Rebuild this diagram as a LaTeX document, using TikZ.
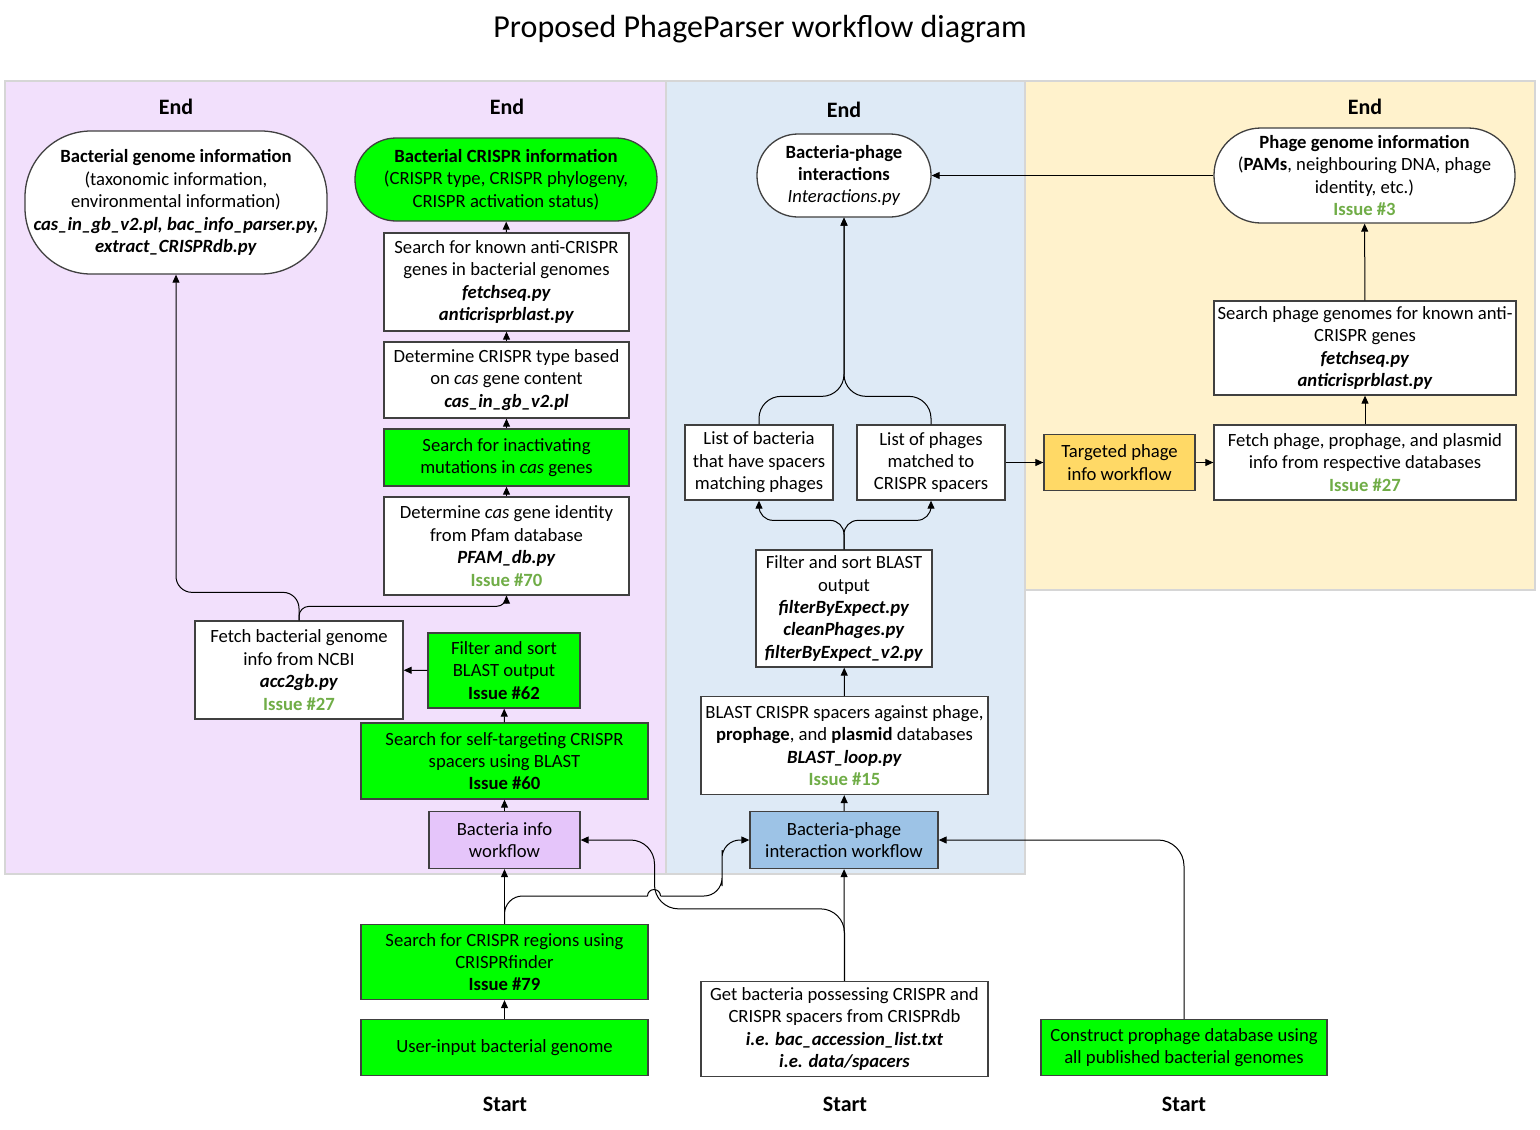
\documentclass[tikz,border=0pt]{standalone}
\usepackage{fontspec}
\setmainfont{Carlito}
\usetikzlibrary{arrows.meta}
\definecolor{purplebg}{RGB}{242,224,252}
\definecolor{bluebg}{RGB}{222,234,246}
\definecolor{yellowbg}{RGB}{255,242,204}
\definecolor{panelbord}{RGB}{214,214,214}
\definecolor{bordc}{RGB}{64,64,64}
\definecolor{limefill}{RGB}{0,255,0}
\definecolor{violetfill}{RGB}{229,197,250}
\definecolor{skyfill}{RGB}{157,195,230}
\definecolor{goldfill}{RGB}{255,217,102}
\definecolor{issuegreen}{RGB}{112,173,71}
\newcommand{\bodyfont}{\fontsize{18.67}{22.4}\selectfont}
\newcommand{\headfont}{\fontsize{22}{26}\selectfont\bfseries}
\newcommand{\titlefont}{\fontsize{32}{38}\selectfont}
\newcommand{\bi}[1]{\textbf{\textit{#1}}}
\newcommand{\issue}[1]{\textcolor{issuegreen}{\textbf{Issue \##1}}}
\begin{document}
\begin{tikzpicture}[x=1pt,y=-1pt,
  box/.style={draw=bordc, line width=1.3pt, fill=white, align=center, inner sep=0pt, font=\bodyfont},
  greenbox/.style={box, fill=limefill},
  conn/.style={draw=black, line width=1pt, -{Triangle[length=8pt,width=7pt]}},
  plain/.style={draw=black, line width=1pt},
  head/.style={font=\headfont, inner sep=0pt},
  panel/.style={draw=panelbord, line width=1.5pt}]
\useasboundingbox (0,0) rectangle (1540,1130);

% swim-lane panels
\path[panel, fill=purplebg] (5,81) rectangle (666,874);
\path[panel, fill=bluebg] (666,81) rectangle (1025,874);
\path[panel, fill=yellowbg] (1025,81) rectangle (1535,590);

% title and lane labels
\node[font=\titlefont, inner sep=0pt] (title) at (760,29) {Proposed PhageParser workflow diagram};
\node[head] (end1) at (176,107) {End};
\node[head] (end2) at (507,107) {End};
\node[head] (end3) at (844,110) {End};
\node[head] (end4) at (1365,107) {End};
\node[head] (start1) at (505,1104) {Start};
\node[head] (start2) at (845,1104) {Start};
\node[head] (start3) at (1184,1104) {Start};

% bacteria info lane
\node[box, rounded corners=66pt, minimum width=302pt, minimum height=143pt] (bacgenome) at (176,202.5)
  {\textbf{Bacterial genome information}\\(taxonomic information,\\environmental information)\\\bi{cas\_in\_gb\_v2.pl, bac\_info\_parser.py,}\\\bi{extract\_CRISPRdb.py}};
\node[greenbox, rounded corners=41pt, minimum width=302pt, minimum height=83pt] (baccrispr) at (506,179.5)
  {\textbf{Bacterial CRISPR information}\\(CRISPR type, CRISPR phylogeny,\\CRISPR activation status)};
\node[box, minimum width=245pt, minimum height=98pt] (anticrispr) at (506.5,282)
  {Search for known anti-CRISPR\\genes in bacterial genomes\\\bi{fetchseq.py}\\\bi{anticrisprblast.py}};
\node[box, minimum width=245pt, minimum height=76pt] (crisprtype) at (506.5,380)
  {Determine CRISPR type based\\on \textit{cas} gene content\\\bi{cas\_in\_gb\_v2.pl}};
\node[greenbox, minimum width=245pt, minimum height=57pt] (inactivating) at (506.5,457.5)
  {Search for inactivating\\mutations in \textit{cas} genes};
\node[box, minimum width=245pt, minimum height=98pt] (casid) at (506.5,546)
  {Determine \textit{cas} gene identity\\from Pfam database\\\bi{PFAM\_db.py}\\\issue{70}};
\node[box, minimum width=208pt, minimum height=98pt] (fetchbac) at (299,670)
  {Fetch bacterial genome\\info from NCBI\\\bi{acc2gb.py}\\\issue{27}};
\node[greenbox, minimum width=152pt, minimum height=75pt] (filter62) at (504,670.5)
  {Filter and sort\\BLAST output\\\textbf{Issue \#62}};
\node[greenbox, minimum width=287pt, minimum height=76pt] (selftarget) at (504.5,761)
  {Search for self-targeting CRISPR\\spacers using BLAST\\\textbf{Issue \#60}};
\node[box, fill=violetfill, minimum width=151pt, minimum height=57pt] (bacinfo) at (504.5,840)
  {Bacteria info\\workflow};
\node[greenbox, minimum width=287pt, minimum height=75pt] (crisprfinder) at (504.5,962)
  {Search for CRISPR regions using\\CRISPRfinder\\\textbf{Issue \#79}};
\node[greenbox, minimum width=287pt, minimum height=56pt] (userinput) at (504.5,1047.5)
  {User-input bacterial genome};

% bacteria-phage interaction lane
\node[box, minimum width=287pt, minimum height=95pt] (getbac) at (844.5,1029)
  {Get bacteria possessing CRISPR and\\CRISPR spacers from CRISPRdb\\\bi{i.e. bac\_accession\_list.txt}\\\bi{i.e. data/spacers}};
\node[greenbox, minimum width=286pt, minimum height=56pt] (construct) at (1184,1047.5)
  {Construct prophage database using\\all published bacterial genomes};
\node[box, fill=skyfill, minimum width=188pt, minimum height=57pt] (bpwf) at (844,840)
  {Bacteria-phage\\interaction workflow};
\node[box, minimum width=287pt, minimum height=98pt] (blastcrispr) at (844.5,745.5)
  {BLAST CRISPR spacers against phage,\\\textbf{prophage}, and \textbf{plasmid} databases\\\bi{BLAST\_loop.py}\\\issue{15}};
\node[box, minimum width=176pt, minimum height=117pt] (filtersort) at (844,608.5)
  {Filter and sort BLAST\\output\\\bi{filterByExpect.py}\\\bi{cleanPhages.py}\\\bi{filterByExpect\_v2.py}};
\node[box, minimum width=148pt, minimum height=75pt] (listbac) at (759,462.5)
  {List of bacteria\\that have spacers\\matching phages};
\node[box, minimum width=148pt, minimum height=75pt] (listphage) at (931,462.5)
  {List of phages\\matched to\\CRISPR spacers};
\node[box, rounded corners=41pt, minimum width=174pt, minimum height=83pt] (bpint) at (844,175.5)
  {\textbf{Bacteria-phage}\\\textbf{interactions}\\\textit{Interactions.py}};

% targeted phage lane
\node[box, fill=goldfill, minimum width=151pt, minimum height=56pt] (targeted) at (1119.5,462.5)
  {Targeted phage\\info workflow};
\node[box, minimum width=302pt, minimum height=75pt] (fetchphage) at (1365,462.5)
  {Fetch phage, prophage, and plasmid\\info from respective databases\\\issue{27}};
\node[box, minimum width=302pt, minimum height=94pt] (searchphage) at (1365,348)
  {Search phage genomes for known anti-\\CRISPR genes\\\bi{fetchseq.py}\\\bi{anticrisprblast.py}};
\node[box, rounded corners=47pt, minimum width=301pt, minimum height=95pt] (phagegenome) at (1364.5,175.5)
  {\textbf{Phage genome information}\\(\textbf{PAMs}, neighbouring DNA, phage\\identity, etc.)\\\issue{3}};

% connectors: bacteria info lane
\draw[conn] (userinput) -- (crisprfinder);
\draw[conn] (crisprfinder) -- (bacinfo);
\draw[conn] (bacinfo) -- (selftarget);
\draw[conn] (selftarget) -- (filter62);
\draw[conn] (filter62) -- (fetchbac);
\draw[conn, rounded corners=16pt] (fetchbac.north) -- ++(0,-28) -| (bacgenome.south);
\draw[conn, rounded corners=10pt] (fetchbac.north) -- ++(0,-14) -| (casid.south);
\draw[conn] (casid) -- (inactivating);
\draw[conn] (inactivating) -- (crisprtype);
\draw[conn] (crisprtype) -- (anticrispr);
\draw[conn] (anticrispr) -- (baccrispr);

% connectors: starts to workflows
\draw[conn, rounded corners=24pt] (getbac.north) |- ++(-190,-72) |- (bacinfo.east);
% the CRISPRfinder line hops over the line above where they cross
\coordinate (hopin) at (647.5,896);
\coordinate (hopout) at (660.5,896);
\draw[plain, rounded corners=18pt] (crisprfinder.north) |- (hopin);
\draw[plain] (hopin) arc[start angle=180, end angle=360, radius=6.5];
\draw[conn, rounded corners=18pt] (hopout) -| ++(61.5,-28) |- (bpwf.west);
\draw[conn] (getbac) -- (bpwf);
\draw[conn, rounded corners=26pt] (construct.north) |- (bpwf.east);

% connectors: bacteria-phage lane
\draw[conn] (bpwf) -- (blastcrispr);
\draw[conn] (blastcrispr) -- (filtersort);
\draw[conn, rounded corners=14pt] (filtersort.north) -- ++(0,-29) -| (listbac.south);
\draw[conn, rounded corners=14pt] (filtersort.north) -- ++(0,-29) -| (listphage.south);
\draw[conn, rounded corners=22pt] (listbac.north) -- ++(0,-28) -| (bpint.south);
\draw[conn, rounded corners=22pt] (listphage.north) -- ++(0,-28) -| (bpint.south);

% connectors: targeted phage lane
\draw[conn] (listphage) -- (targeted);
\draw[conn] (targeted) -- (fetchphage);
\draw[conn] (fetchphage) -- (searchphage);
\draw[conn] (searchphage) -- (phagegenome);
\draw[conn] (phagegenome) -- (bpint);
\end{tikzpicture}
\end{document}
